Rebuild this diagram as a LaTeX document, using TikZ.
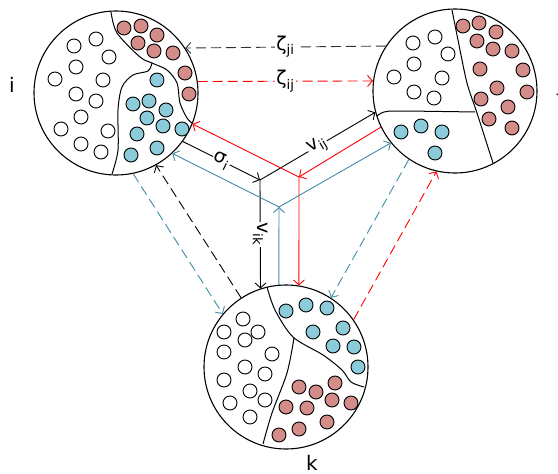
\documentclass[tikz,border=0pt]{standalone}
\usepackage{fontspec}
\setmainfont{DejaVu Sans}
\usetikzlibrary{arrows.meta}

\definecolor{lnteal}{RGB}{64,140,165}
\definecolor{dotblue}{RGB}{140,204,218}
\definecolor{dotred}{RGB}{212,140,136}
\definecolor{dgray}{RGB}{51,51,51}

\tikzset{
  pop/.style={circle, draw, line width=1.1pt, minimum size=164pt, inner sep=0pt},
  wdot/.style={draw, fill=white, line width=0.9pt},
  rdot/.style={draw, fill=dotred, line width=0.9pt},
  bdot/.style={draw, fill=dotblue, line width=0.9pt},
  arr/.style={-{Straight Barb[length=5pt,width=11pt]}, line width=0.9pt},
  dsh/.style={arr, dash pattern=on 10pt off 5pt},
  lbl/.style={fill=white, inner sep=1pt, font=\fontsize{19}{22}\selectfont},
  poplabel/.style={inner sep=0pt, font=\fontsize{20}{23}\selectfont},
}

\begin{document}
\begin{tikzpicture}[x=1pt, y=-1pt]
  \useasboundingbox (0,0) rectangle (558,474);
  \def\dr{7} % dot radius

  % Populations
  \node[pop] (i) at (116,93) {};
  \node[pop] (j) at (455,91) {};
  \node[pop] (k) at (286,367) {};
  \node[poplabel, anchor=base] (li) at (12,92) {i};
  \node[poplabel, anchor=base west] (lj) at (557,91) {j};
  \node[poplabel, anchor=base] (lk) at (312,470) {k};

  % Partitions
  \draw[line width=1pt] plot[smooth] coordinates {(111,12) (117,33) (140,57) (152,63) (167,70) (177,83) (180,103) (187,118) (192,123)};
  \draw[line width=1pt] plot[smooth] coordinates {(152,63) (148,71) (133,75) (122,87) (118,110) (118,150) (112,174)};
  \draw[line width=1pt] plot[smooth] coordinates {(452,10) (458,40) (467,83) (477,113) (493,163)};
  \draw[line width=1pt] plot[smooth] coordinates {(377,116) (384,112) (400,111) (475,112)};
  \draw[line width=1pt] plot[smooth] coordinates {(267,287) (275,310) (293,337) (323,355) (342,370) (351,382) (364,387)};
  \draw[line width=1pt] plot[smooth] coordinates {(294,338) (287,373) (272,413) (263,444)};

  % Dots of i
  \foreach \x/\y in {74/46, 96/39, 109/57, 76/67, 55/79, 103/80, 76/94, 96/101, 81/117, 61/129, 108/131, 81/144, 101/152}
    \draw[wdot] (\x,\y) circle (\dr pt);
  \foreach \x/\y in {124/28, 141/26, 157/35, 138/43, 154/51, 173/53, 185/73, 189/94}
    \draw[rdot] (\x,\y) circle (\dr pt);
  \foreach \x/\y in {157/80, 133/104, 149/101, 166/110, 147/118, 163/126, 182/129, 137/134, 157/148, 131/155}
    \draw[bdot] (\x,\y) circle (\dr pt);

  % Dots of j
  \foreach \x/\y in {413/43, 435/37, 448/54, 414/64, 394/77, 442/78, 414/92, 434/98}
    \draw[wdot] (\x,\y) circle (\dr pt);
  \foreach \x/\y in {463/26, 479/23, 496/32, 477/41, 493/49, 512/51, 480/69, 523/70, 497/88, 527/92, 481/99, 508/107, 489/119, 512/128}
    \draw[rdot] (\x,\y) circle (\dr pt);
  \foreach \x/\y in {401/132, 421/126, 442/132, 435/153}
    \draw[bdot] (\x,\y) circle (\dr pt);

  % Dots of k
  \foreach \x/\y in {243/319, 224/332, 258/332, 245/340, 224/352, 272/354, 245/367, 265/374, 224/380, 250/391, 265/400, 230/403, 250/417}
    \draw[wdot] (\x,\y) circle (\dr pt);
  \foreach \x/\y in {286/311, 306/305, 327/308, 313/332, 343/328, 333/346, 354/347, 358/367}
    \draw[bdot] (\x,\y) circle (\dr pt);
  \foreach \x/\y in {299/387, 316/392, 335/383, 332/400, 351/403, 286/407, 307/408, 327/422, 299/429, 279/435}
    \draw[rdot] (\x,\y) circle (\dr pt);

  % Junctions
  \coordinate (bj) at (260,180);
  \coordinate (rj) at (299,177);
  \coordinate (tj) at (279,207);

  % Solid flows
  \draw[arr] (i.-36.2) -- node[lbl, sloped] {σ\textsubscript{i}} (bj);
  \draw[arr] (bj) -- node[lbl, sloped] {v\textsubscript{ij}} (j.195.8);
  \draw[arr] (bj) -- node[lbl, rotate=-90] {v\textsubscript{ik}} (k.108.5);
  \draw[arr, red] (j.206.3) -- (rj);
  \draw[arr, red] (rj) -- (i.-22.8);
  \draw[arr, red] (rj) -- (k.81);
  \draw[arr, lnteal] (k.95) -- (tj);
  \draw[arr, lnteal] (tj) -- (i.-47.9);
  \draw[arr, lnteal] (tj) -- (j.219);

  % Dashed flows
  \draw[dsh, dgray] (j.147.8) -- node[lbl, text=black] {ζ\textsubscript{ji}} (i.33.7);
  \draw[dsh, red] (i.8.3) -- node[lbl, text=black] {ζ\textsubscript{ij}} (j.173);
  \draw[dsh] (k.123) -- (i.-61);
  \draw[dsh, lnteal] (i.-78) -- (k.140);
  \draw[dsh, lnteal] (j.236) -- (k.57);
  \draw[dsh, red] (k.35) -- (j.257.5);
\end{tikzpicture}
\end{document}
